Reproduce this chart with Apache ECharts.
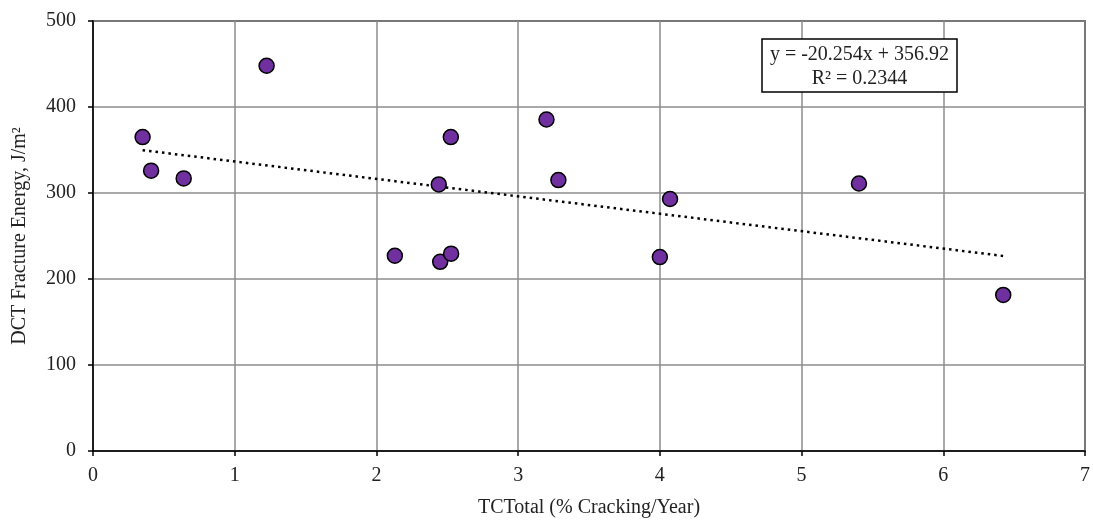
<!DOCTYPE html>
<html>
<head>
<meta charset="utf-8">
<script src="https://cdn.jsdelivr.net/npm/echarts@6/dist/echarts.min.js"></script>
<style>
  html, body { margin: 0; padding: 0; background: #fff; }
  #main { width: 1093px; height: 523px; }
</style>
</head>
<body>
<div id="main"></div>
<script>
// data
var tcTotal = [0.35, 0.41, 0.64, 1.225, 2.13, 2.44, 2.45, 2.525, 2.527, 3.2, 3.284, 4.0, 4.072, 5.405, 6.423];
var fractureEnergy = [365, 326, 317, 448, 227, 310, 220, 365, 229.5, 385.5, 315, 225.5, 293, 311, 181.5];
// linear trend shown in the chart (dotted), ends at min / max of the data
var trendX = [0.35, 6.423];
var trendY = [349.8, 226.8];
var trendLabel = ['y = -20.254x + 356.92', 'R\u00b2 = 0.2344'];
var xTicks = [0, 1, 2, 3, 4, 5, 6, 7];
var yTicks = [0, 100, 200, 300, 400, 500];

var font = '"Liberation Serif", "Times New Roman", serif';

var points = tcTotal.map(function (x, i) { return [x, fractureEnergy[i]]; });
var trend = trendX.map(function (x, i) { return [x, trendY[i]]; });

var myChart = echarts.init(document.getElementById('main'));

var option = {
    animation: false,
    backgroundColor: '#fff',
    grid: {
        left: 93, right: 7, top: 21, bottom: 67,
        show: true,
        borderColor: '#000',
        borderWidth: 1.5,
        containLabel: false
    },
    xAxis: {
        type: 'value',
        min: xTicks[0], max: xTicks[xTicks.length - 1], interval: 1,
        name: 'TCTotal (% Cracking/Year)',
        nameLocation: 'middle',
        nameGap: 47,
        nameTextStyle: { fontFamily: font, fontSize: 20, color: '#222' },
        axisLine: { lineStyle: { color: '#000', width: 1.5 } },
        axisTick: { show: true, inside: false, length: 5, lineStyle: { color: '#000', width: 1.5 } },
        axisLabel: { fontFamily: font, fontSize: 20, color: '#222', margin: 15 },
        splitLine: { show: true, lineStyle: { color: '#8c8c8c', width: 1.5 } }
    },
    yAxis: {
        type: 'value',
        min: yTicks[0], max: yTicks[yTicks.length - 1], interval: 100,
        name: 'DCT Fracture Energy, J/m\u00b2',
        nameLocation: 'middle',
        nameGap: 63,
        nameTextStyle: { fontFamily: font, fontSize: 20, color: '#222' },
        axisLine: { show: true, lineStyle: { color: '#000', width: 1.5 } },
        axisTick: { show: true, inside: false, length: 5, lineStyle: { color: '#000', width: 1.5 } },
        axisLabel: { fontFamily: font, fontSize: 20, color: '#222', margin: 17 },
        splitLine: { show: true, lineStyle: { color: '#8c8c8c', width: 1.5 } }
    },
    graphic: [
        {
            type: 'rect',
            x: 762, y: 39,
            shape: { x: 0, y: 0, width: 195, height: 53 },
            style: { fill: '#fff', stroke: '#000', lineWidth: 1.5 },
            z: 100
        },
        {
            type: 'text',
            x: 859.5, y: 43,
            style: {
                text: trendLabel.join('\n'),
                align: 'center',
                verticalAlign: 'top',
                fontFamily: font,
                fontSize: 20,
                lineHeight: 24,
                fill: '#222'
            },
            z: 101
        }
    ],
    series: [
        {
            name: 'trend',
            type: 'line',
            data: trend,
            symbol: 'none',
            silent: true,
            lineStyle: { color: '#000', width: 2.5, type: [2.5, 4] },
            z: 3
        },
        {
            name: 'DCT',
            type: 'scatter',
            data: points,
            symbol: 'circle',
            symbolSize: 15,
            itemStyle: { color: '#7030A0', borderColor: '#000', borderWidth: 1.5, opacity: 1 },
            z: 4
        }
    ]
};

myChart.setOption(option);
</script>
</body>
</html>
